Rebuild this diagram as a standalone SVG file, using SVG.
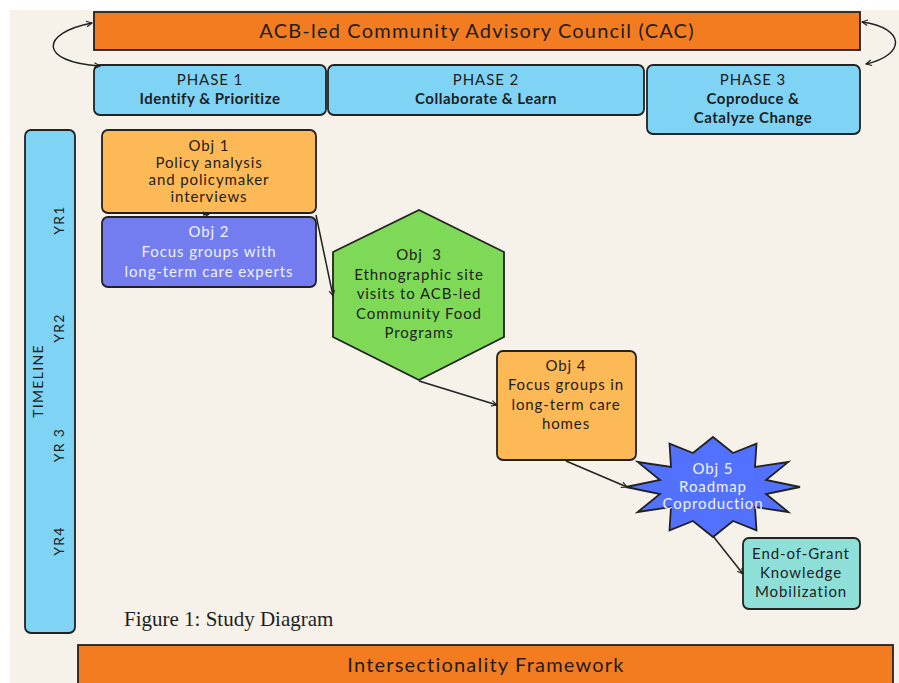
<svg xmlns="http://www.w3.org/2000/svg" width="899" height="683" viewBox="0 0 899 683">
<defs>
<marker id="ah" viewBox="0 0 10 10" refX="9" refY="5" markerWidth="7" markerHeight="7" orient="auto-start-reverse" markerUnits="userSpaceOnUse">
<path d="M1,1 L9,5 L1,9" fill="none" stroke="#222" stroke-width="1.6"/>
</marker>
<style>
.t{font-family:Lato,"Noto Sans",sans-serif;fill:#1e1e1e;text-anchor:middle;letter-spacing:0.9px;font-size:15px}
.big{letter-spacing:1.2px;font-size:20px}
.b{font-weight:bold;letter-spacing:0.5px}
.yr{font-size:14px;letter-spacing:1.3px}
.w{fill:#eef0ff}
.box{stroke:#222;stroke-width:1.8}
.org{fill:#f47c20}
.blu{fill:#7fd4f5}
.yel{fill:#fdb955}
.con{fill:none;stroke:#222;stroke-width:1.5;marker-end:url(#ah)}
.loop{fill:none;stroke:#222;stroke-width:1.5;marker-end:url(#ah);marker-start:url(#ah)}
</style>
</defs>
<rect x="0" y="0" width="899" height="683" fill="#ffffff"/>
<rect x="10" y="10" width="889" height="673" fill="#f6f2ea"/>

<g id="cac">
<rect class="box org" x="94" y="12" width="766" height="38"/>
<text class="t big" x="477" y="38">ACB-led Community Advisory Council (CAC)</text>
</g>
<g id="phase1">
<rect class="box blu" x="94" y="65" width="232" height="50" rx="6"/>
<text class="t" x="210" y="85">PHASE 1</text>
<text class="t b" x="210" y="104">Identify &amp; Prioritize</text>
</g>
<g id="phase2">
<rect class="box blu" x="328" y="65" width="316" height="50" rx="6"/>
<text class="t" x="486" y="85">PHASE 2</text>
<text class="t b" x="486" y="104">Collaborate &amp; Learn</text>
</g>
<g id="phase3">
<rect class="box blu" x="647" y="65" width="213" height="69" rx="6"/>
<text class="t" x="753" y="85">PHASE 3</text>
<text class="t b" x="753" y="104">Coproduce &amp;</text>
<text class="t b" x="753" y="123">Catalyze Change</text>
</g>
<g id="timeline">
<rect class="box blu" x="25" y="130" width="50" height="503" rx="6"/>
<text class="t yr" transform="translate(64,220) rotate(-90)">YR1</text>
<text class="t yr" transform="translate(64,328) rotate(-90)">YR2</text>
<text class="t yr" transform="translate(43,381) rotate(-90)">TIMELINE</text>
<text class="t yr" transform="translate(64,445) rotate(-90)">YR 3</text>
<text class="t yr" transform="translate(64,541) rotate(-90)">YR4</text>
</g>
<g id="obj1">
<rect class="box yel" x="102" y="130" width="214" height="83" rx="6"/>
<text class="t" x="209" y="151">Obj 1</text>
<text class="t" x="209" y="168">Policy analysis</text>
<text class="t" x="209" y="185">and policymaker</text>
<text class="t" x="209" y="202">interviews</text>
</g>
<g id="obj2">
<rect class="box" fill="#737df0" x="102" y="217" width="214" height="70" rx="6"/>
<text class="t w" x="209" y="237">Obj 2</text>
<text class="t w" x="209" y="257">Focus groups with</text>
<text class="t w" x="209" y="277">long-term care experts</text>
</g>
<g id="obj3">
<polygon class="box" fill="#7ed957" points="419,210 504,252 504,337 419,380 333,337 333,252"/>
<text class="t" x="419" y="260" xml:space="preserve">Obj  3</text>
<text class="t" x="419" y="280">Ethnographic site</text>
<text class="t" x="419" y="299">visits to ACB-led</text>
<text class="t" x="419" y="319">Community Food</text>
<text class="t" x="419" y="338">Programs</text>
</g>
<g id="obj4">
<rect class="box yel" x="497" y="351" width="139" height="109" rx="6"/>
<text class="t" x="566" y="371">Obj 4</text>
<text class="t" x="566" y="390">Focus groups in</text>
<text class="t" x="566" y="410">long-term care</text>
<text class="t" x="566" y="429">homes</text>
</g>
<g id="obj5">
<polygon class="box" fill="#5271ff" points="713,437 733,453 756.5,443.7 755,467 788.3,462 766,480 800,487 766,494 788.3,512 755,507 756.5,530.3 733,521 713,537 693,521 669.5,530.3 671,507 637.7,512 660,494 626,487 660,480 637.7,462 671,467 669.5,443.7 693,453"/>
<text class="t w" x="713" y="474">Obj 5</text>
<text class="t w" x="713" y="492">Roadmap</text>
<text class="t w" x="713" y="509">Coproduction</text>
</g>
<g id="kmob">
<rect class="box" fill="#8fdfd9" x="743" y="538" width="117" height="71" rx="6"/>
<text class="t" x="801" y="559" letter-spacing="0.6">End-of-Grant</text>
<text class="t" x="801" y="578">Knowledge</text>
<text class="t" x="801" y="597" letter-spacing="0.6">Mobilization</text>
</g>
<g id="caption">
<text x="124" y="626" font-family="'Liberation Serif',serif" font-size="21" fill="#1e1e1e">Figure 1: Study Diagram</text>
</g>
<g id="framework">
<rect class="box org" x="78" y="645" width="815" height="40"/>
<text class="t big" x="486" y="672">Intersectionality Framework</text>
</g>
<g id="connectors">
<path class="loop" d="M92,23 C40,33 38,62 100,66" />
<path class="loop" d="M862,22 C906,28 906,55 866,64" />
<path class="con" d="M203,215 L209,214" />
<path class="con" d="M316,215 L333,296" />
<path class="con" d="M419,381 L497,405" />
<path class="con" d="M566,461 L627,487" />
<path class="con" d="M713,536 L743,574" />
</g>
</svg>
